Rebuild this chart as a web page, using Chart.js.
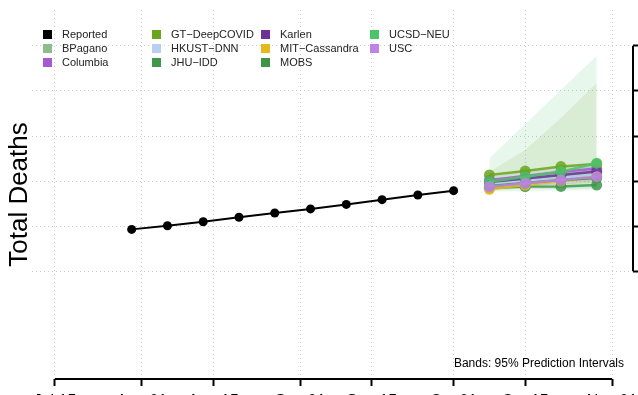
<!DOCTYPE html>
<html lang="en">
<head>
  <meta charset="UTF-8">
  <title>Total Deaths – Forecasts</title>
  <script src="https://cdn.jsdelivr.net/npm/chart.js"></script>
  <style>
    html, body { margin: 0; padding: 0; overflow: hidden; background: #fff; }
    body { width: 638px; height: 395px; position: relative; font-family: "Liberation Sans", Arial, sans-serif; }
    #chart { position: absolute; left: 0; top: 0; }
    .item { position: absolute; font-size: 11px; line-height: 14px; color: #222; white-space: nowrap; }
    .box { position: absolute; left: 0; top: 2.5px; width: 9px; height: 9px; }
    .txt { position: absolute; left: 19px; top: 0; }
  </style>
</head>
<body>
  <canvas id="chart" width="700" height="420"></canvas>
  <div id="legend"></div>

  <script>
    // x values are days counted from Jul 15
    const tickDays = [0, 17, 31, 48, 62, 78, 92, 109];
    const tickLabels = ["Jul 15", "Aug 01", "Aug 15", "Sep 01", "Sep 15", "Oct 01", "Oct 15", "Nov 01"];
    const yTicks = [6000, 8000, 10000, 12000, 14000, 16000];

    const reportedDays = [15, 22, 29, 36, 43, 50, 57, 64, 71, 78];
    const reported = [7850, 8010, 8190, 8390, 8580, 8760, 8960, 9170, 9380, 9570];

    const forecastDays = [85, 92, 99, 106];
    const models = ["BPagano", "Columbia", "GT-DeepCOVID", "HKUST-DNN", "JHU-IDD",
                    "Karlen", "MIT-Cassandra", "MOBS", "UCSD-NEU", "USC"];
    const colors = ["#8fbc8f", "#a55ad2", "#6aa51f", "#b9cff2", "#40964a",
                    "#6b3394", "#e6b81e", "#3f944a", "#4dc36a", "#c183e3"];

    // one row per model, same order as models
    const medians = [
      [9910, 10040, 10200, 10360],
      [10040, 10220, 10400, 10560],
      [10270, 10440, 10640, 10760],
      [9870, 10000, 10160, 10310],
      [9680, 9750, 9760, 9820],
      [9960, 10110, 10270, 10420],
      [9630, 9820, 10000, 10180],
      [9780, 9910, 10040, 10130],
      [9970, 10190, 10410, 10790],
      [9750, 9900, 10040, 10190]
    ];
    const lower95 = [
      [9780, 9860, 9960, 10060],
      [9900, 10020, 10150, 10260],
      [9780, 9870, 9960, 10000],
      [9740, 9820, 9920, 10000],
      [9600, 9640, 9640, 9680],
      [9830, 9930, 10040, 10140],
      [9560, 9700, 9820, 9950],
      [9680, 9770, 9860, 9920],
      [9520, 9560, 9580, 9600],
      [9650, 9760, 9860, 9960]
    ];
    const upper95 = [
      [10040, 10230, 10440, 10650],
      [10190, 10420, 10650, 10870],
      [10400, 11380, 12800, 14360],
      [10000, 10180, 10390, 10620],
      [9750, 9860, 9890, 9970],
      [10080, 10290, 10500, 10700],
      [9700, 9940, 10180, 10400],
      [9880, 10050, 10230, 10350],
      [11010, 12530, 14050, 15570],
      [9840, 10040, 10230, 10420]
    ];

    const FONT = '"Liberation Sans", Arial, sans-serif';

    function alpha(hex, a) {
      const n = parseInt(hex.slice(1), 16);
      return `rgba(${(n >> 16) & 255},${(n >> 8) & 255},${n & 255},${a})`;
    }
    const xy = (days, vals) => days.map((d, i) => ({ x: d, y: vals[i] }));

    const datasets = [];
    // prediction bands (drawn first)
    models.forEach((name, m) => {
      datasets.push({
        label: name + " upper", data: xy(forecastDays, upper95[m]),
        borderWidth: 0, borderColor: "transparent", pointRadius: 0, fill: false, order: 200 - 2 * m
      });
      datasets.push({
        label: name + " lower", data: xy(forecastDays, lower95[m]),
        borderWidth: 0, borderColor: "transparent", pointRadius: 0,
        fill: "-1", backgroundColor: alpha(colors[m], 0.13), order: 199 - 2 * m
      });
    });
    // model medians
    models.forEach((name, m) => {
      datasets.push({
        label: name, data: xy(forecastDays, medians[m]),
        borderColor: alpha(colors[m], 0.85), backgroundColor: alpha(colors[m], 0.85),
        borderWidth: 2.5, pointRadius: 5.5, pointBorderWidth: 0, fill: false, order: 50 - m
      });
    });
    datasets.push({
      label: "Reported", data: xy(reportedDays, reported),
      borderColor: "#000", backgroundColor: "#000", borderWidth: 2,
      pointRadius: 4.5, pointBorderWidth: 0, fill: false, order: 0
    });

    // axis lines only between first and last tick, plus title and note
    const frame = {
      id: "frame",
      afterDraw(chart) {
        const { ctx, chartArea, scales: { x, y } } = chart;
        ctx.save();
        ctx.strokeStyle = "#000";
        ctx.lineWidth = 2;
        ctx.beginPath();
        ctx.moveTo(x.getPixelForValue(tickDays[0]), chartArea.bottom);
        ctx.lineTo(x.getPixelForValue(tickDays[tickDays.length - 1]), chartArea.bottom);
        ctx.moveTo(chartArea.right, y.getPixelForValue(yTicks[0]));
        ctx.lineTo(chartArea.right, y.getPixelForValue(yTicks[yTicks.length - 1]));
        ctx.stroke();

        ctx.fillStyle = "#000";
        ctx.font = "12px " + FONT;
        ctx.textAlign = "right";
        ctx.fillText("Bands: 95% Prediction Intervals", chartArea.right - 9, chartArea.bottom - 12);

        ctx.translate(27, (chartArea.top + chartArea.bottom) / 2);
        ctx.rotate(-Math.PI / 2);
        ctx.textAlign = "center";
        ctx.font = "26px " + FONT;
        ctx.fillText("Total Deaths", 0, 0);
        ctx.restore();
      }
    };

    const gridOpts = { color: "#cccccc", lineWidth: 1, tickColor: "#000", tickWidth: 2, tickLength: 7 };

    new Chart(document.getElementById("chart"), {
      type: "line",
      data: { datasets: datasets },
      options: {
        responsive: false,
        animation: false,
        layout: { padding: { left: 32, top: 10, right: 0, bottom: 0 } },
        plugins: { legend: { display: false }, tooltip: { enabled: false } },
        scales: {
          x: {
            type: "linear", min: -4.5, max: 113.1,
            afterBuildTicks: s => { s.ticks = tickDays.map(v => ({ value: v })); },
            afterFit: s => { s.height = 41; },
            grid: gridOpts,
            border: { display: false, dash: [1, 3] },
            ticks: {
              autoSkip: false, maxRotation: 0, padding: 6, color: "#000",
              font: { size: 16, family: FONT },
              callback: (v, i) => tickLabels[i]
            }
          },
          y: {
            position: "right", min: 1200, max: 17600,
            afterBuildTicks: s => { s.ticks = yTicks.map(v => ({ value: v })); },
            afterFit: s => { s.width = 67; },
            grid: gridOpts,
            border: { display: false, dash: [1, 3] },
            ticks: { padding: 0, color: "#000", font: { size: 10, family: FONT } }
          }
        }
      },
      plugins: [frame]
    });

    // legend: 3 rows, filled column by column
    const legendNames = ["Reported"].concat(models);
    const legendColors = ["#000"].concat(colors);
    const legend = document.getElementById("legend");
    legendNames.forEach((name, i) => {
      const col = Math.floor(i / 3), row = i % 3;
      const item = document.createElement("div");
      item.className = "item";
      item.style.left = (43 + col * 109) + "px";
      item.style.top = (27 + row * 14) + "px";
      item.innerHTML = `<span class="box" style="background:${legendColors[i]}"></span><span class="txt">${name.replace("-", "\u2212")}</span>`;
      legend.appendChild(item);
    });
  </script>
</body>
</html>
